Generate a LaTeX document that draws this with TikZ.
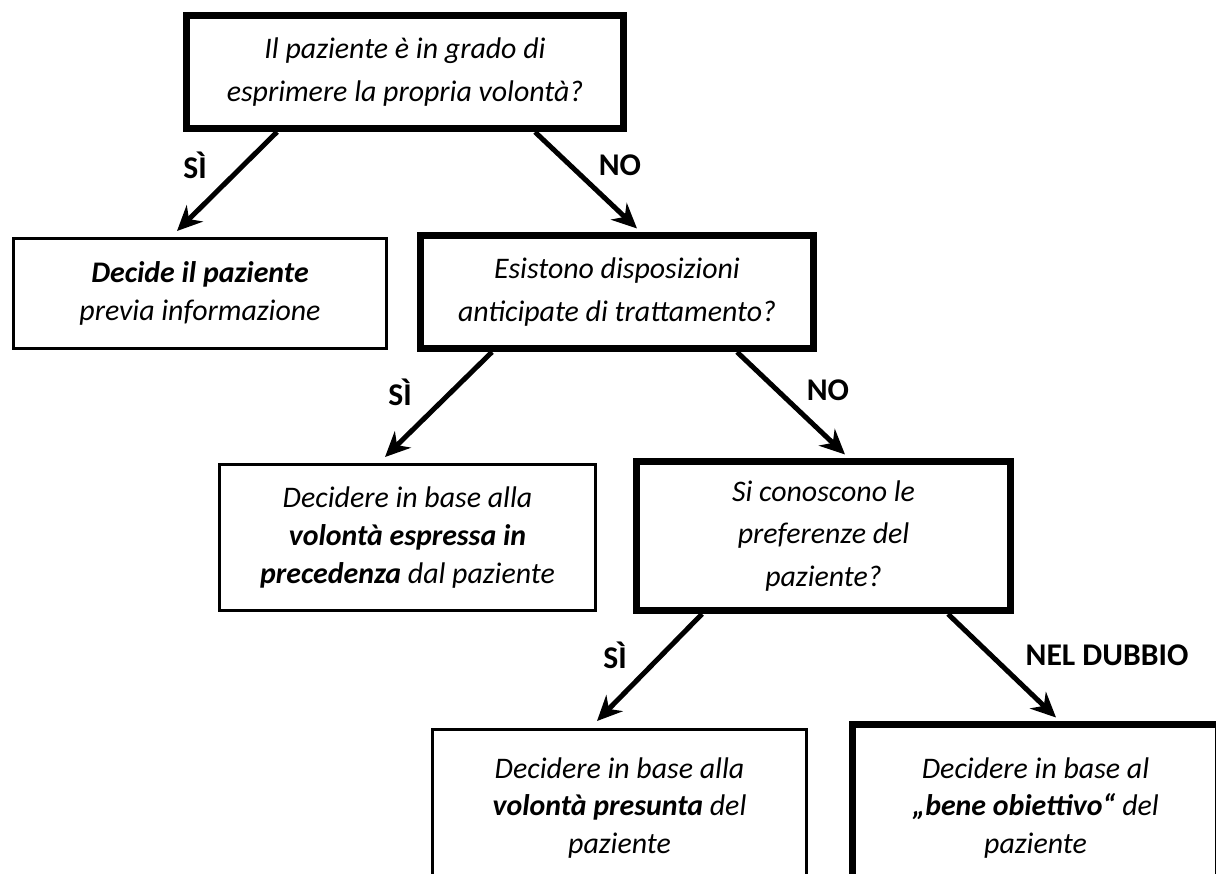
\documentclass[tikz,border=0pt]{standalone}
\usepackage{fontspec}
\setmainfont{Carlito}
\usetikzlibrary{arrows.meta,calc}

\begin{document}
\begin{tikzpicture}[x=0.02cm,y=-0.02cm,
        qbox/.style={draw, line width=0.14cm, inner sep=0pt, align=center,
            font=\fontsize{17}{24}\selectfont\itshape},
        abox/.style={draw, line width=0.06cm, inner sep=0pt, align=center,
            font=\fontsize{17}{21.5}\selectfont\itshape},
        arr/.style={line width=0.1cm, -{Stealth[length=0.5cm, width=0.46cm]}},
        lbl/.style={font=\fontsize{18}{20}\selectfont\bfseries}]

        % Frame
        \clip (0,0) rectangle (1216,874);

        % Questions
        \node[qbox, minimum width=8.74cm, minimum height=2.26cm] (q1) at (405,72)
            {Il paziente è in grado di\\esprimere la propria volontà?};
        \node[qbox, minimum width=7.86cm, minimum height=2.26cm] (q2) at (617,292)
            {Esistono disposizioni\\anticipate di trattamento?};
        \node[qbox, minimum width=7.48cm, minimum height=2.98cm] (q3) at (823.5,536)
            {Si conoscono le\\preferenze del\\paziente?};

        % Decisions
        \node[abox, minimum width=7.46cm, minimum height=2.20cm] (dec) at (200,293.5)
            {\textbf{Decide il paziente}\\previa informazione};
        \node[abox, minimum width=7.52cm, minimum height=2.92cm] (esp) at (407.5,537.5)
            {Decidere in base alla\\\textbf{volontà espressa in}\\\textbf{precedenza} dal paziente};
        \node[abox, minimum width=7.48cm, minimum height=3.14cm] (pres) at (619.5,808)
            {Decidere in base alla\\\textbf{volontà presunta} del\\paziente};
        \node[qbox, font=\fontsize{17}{21.5}\selectfont\itshape,
            minimum width=7.32cm, minimum height=3.34cm] (bene) at (1035.5,808)
            {Decidere in base al\\\textbf{„bene obiettivo“} del\\paziente};

        % Arrows
        \draw[arr] ($(q1.south)+(-128,0)$) -- ($(dec.north)+(-23,-6)$);
        \draw[arr] ($(q1.south)+(130,0)$) -- ($(q2.north)+(20,-3.5)$);
        \draw[arr] ($(q2.south)+(-125,0)$) -- ($(esp.north)+(-22.5,-6)$);
        \draw[arr] ($(q2.south)+(120,0)$) -- ($(q3.north)+(21.5,-3.5)$);
        \draw[arr] ($(q3.south)+(-121.5,0)$) -- ($(pres.north)+(-22.5,-7)$);
        \draw[arr] ($(q3.south)+(124.5,0)$) -- ($(bene.north)+(20.5,-3.5)$);

        % Labels
        \node[lbl] (s1) at (195,165) {SÌ};
        \node[lbl] (n1) at (620,165) {NO};
        \node[lbl] (s2) at (400,392) {SÌ};
        \node[lbl] (n2) at (828,390) {NO};
        \node[lbl] (s3) at (615,655) {SÌ};
        \node[lbl] (nd) at (1107,655) {NEL DUBBIO};

    \end{tikzpicture}
\end{document}
